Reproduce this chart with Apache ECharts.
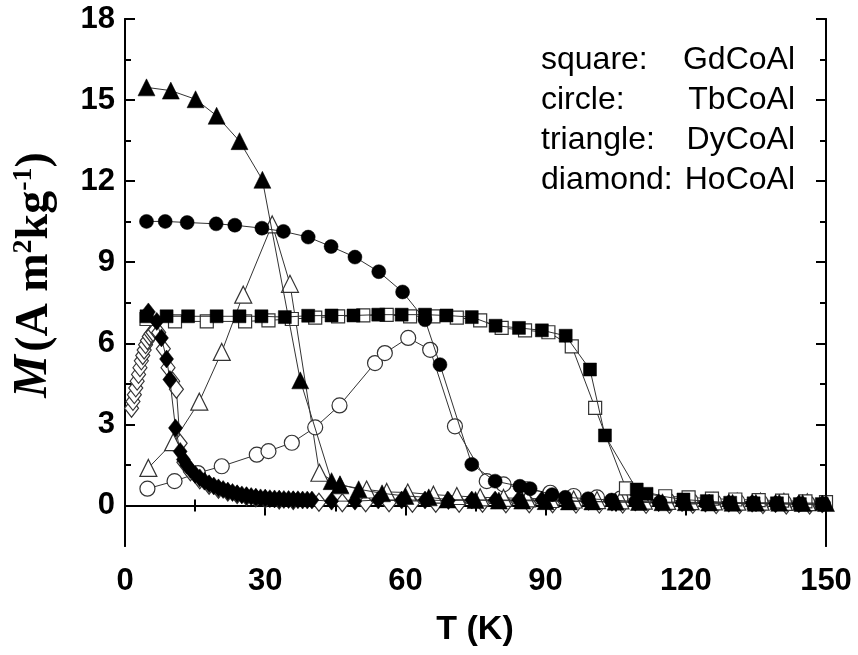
<!DOCTYPE html>
<html>
<head>
<meta charset="utf-8">
<script src="https://cdn.jsdelivr.net/npm/echarts@6/dist/echarts.min.js"></script>
<style>
  html, body { margin: 0; padding: 0; background: #fff; }
  #chart { width: 858px; height: 655px; }
</style>
</head>
<body>
<div id="chart"></div>
<script>
// T (K) , M (A m2 kg-1)
var gdFC = [[4.6,7.0],[8.9,7.0],[13.5,7.0],[19.6,7.0],[24.5,7.0],[29.2,7.0],[34.2,6.97],[39.2,7.02],[44.2,7.03],[48.9,7.03],[54.2,7.06],[59.2,7.06],[64.2,7.06],[68.8,7.03],[74.2,6.97],[79.3,6.65],[84.3,6.57],[89.2,6.48],[94.3,6.28],[99.5,5.03],[102.7,2.59],[109.5,0.59],[111.6,0.43],[119.5,0.22],[124.5,0.16],[129.5,0.1],[134.5,0.08],[139.5,0.08],[144.4,0.05],[149.1,0.05]];
var gdZFC = [[4.6,6.9],[10.7,6.81],[17.5,6.81],[25.7,6.81],[30.7,6.85],[35.7,6.9],[40.7,6.95],[45.6,7.0],[51,7.03],[56,7.05],[61,7.0],[66,7.0],[71,6.95],[76,6.85],[80.6,6.57],[85.6,6.48],[90.6,6.41],[95.6,5.89],[100.6,3.61],[107.2,0.63],[115.6,0.34],[120.6,0.3],[125.6,0.25],[130.6,0.22],[135.6,0.2],[140.6,0.18],[145.6,0.15],[150,0.12]];
var tbFC = [[4.6,10.51],[8.6,10.51],[13.3,10.47],[19.5,10.42],[23.5,10.37],[29.3,10.26],[33.9,10.14],[39.2,9.93],[44.1,9.58],[49.2,9.19],[54.3,8.65],[59.4,7.9],[64.2,6.87],[67.4,5.21],[74.2,1.52],[79.2,0.9],[84.5,0.71],[86.7,0.62],[91.4,0.4],[94.2,0.3],[99.1,0.25],[104.1,0.2],[109.3,0.15],[114.5,0.12],[119.5,0.1],[124.5,0.1],[129.5,0.08],[134.5,0.08],[139.5,0.06],[144.5,0.05],[149.5,0.05]];
var tbZFC = [[4.8,0.62],[10.6,0.9],[15.6,1.2],[20.7,1.45],[28.2,1.88],[30.7,2.01],[35.7,2.32],[40.7,2.89],[45.9,3.7],[53.5,5.27],[55.6,5.64],[60.6,6.2],[65.3,5.76],[70.6,2.93],[77.4,0.9],[81,0.78],[86,0.6],[91,0.47],[96,0.35],[101,0.3],[106,0.25],[111,0.22],[116,0.2],[121,0.18],[126,0.15],[131,0.15],[136,0.12],[141,0.12],[146,0.1]];
var dyFC = [[4.6,15.47],[9.8,15.35],[15.1,15.03],[19.6,14.42],[24.5,13.48],[29.4,12.05],[37.5,4.63],[44.2,0.9],[46,0.78],[50,0.6],[55,0.45],[60,0.35],[65,0.3],[69,0.22],[75,0.2],[80,0.18],[85,0.18],[90,0.16],[95,0.15],[100,0.15],[105,0.14],[110,0.13],[115,0.12],[120,0.12],[125,0.11],[130,0.1],[135,0.1],[140,0.1],[145,0.09],[150,0.09]];
var dyZFC = [[5,1.39],[10.3,2.34],[15.9,3.84],[20.7,5.68],[25.3,7.8],[31.5,10.4],[35.3,8.2],[41.6,1.21],[46,0.75],[51.7,0.59],[56,0.5],[60.5,0.48],[66,0.4],[71,0.35],[76,0.3],[81,0.28],[86,0.26],[91,0.24],[96,0.22],[101,0.2],[106,0.19],[111,0.18],[116,0.17],[121,0.16],[126,0.15],[131,0.14],[136,0.14],[141,0.13],[146,0.12]];
var hoFC = [[5,7.16],[6.8,6.81],[7.8,6.2],[8.9,5.42],[9.6,4.66],[10.8,2.87],[11.8,2.0],[12.5,1.7],[13.2,1.5],[14,1.33],[15,1.15],[16,1.02],[17,0.9],[18,0.8],[19,0.72],[20,0.65],[21,0.59],[22,0.53],[23,0.48],[24,0.43],[25,0.39],[26,0.36],[27,0.33],[28,0.3],[29,0.28],[30,0.27],[31,0.25],[32,0.24],[33,0.23],[34,0.22],[35,0.22],[36,0.21],[37,0.21],[38,0.2],[39,0.2],[40,0.2],[44.2,0.16],[49.2,0.16],[54.2,0.2],[59.2,0.2],[64.2,0.2],[69.2,0.18],[74.2,0.2],[79.2,0.2],[84.2,0.2],[89.2,0.2],[94.2,0.18],[99.2,0.15],[104.2,0.12],[109.2,0.12],[114.2,0.1],[119.2,0.1],[124.2,0.08],[129.2,0.08],[134.2,0.08],[139.2,0.06],[144.2,0.06],[149.2,0.05]];
var hoZFC = [[1.4,3.6],[1.7,3.85],[2.0,4.1],[2.3,4.35],[2.6,4.6],[2.9,4.85],[3.2,5.1],[3.5,5.35],[3.8,5.55],[4.1,5.75],[4.4,5.95],[4.8,6.1],[5.2,6.25],[5.6,6.35],[6.0,6.4],[6.5,6.5],[7.2,6.4],[8.2,5.8],[9.2,5.1],[10.2,4.6],[11,4.3],[11.8,2.3],[12.6,1.6],[14,1.25],[16,0.95],[18,0.75],[20,0.6],[22,0.5],[24,0.4],[26,0.33],[28,0.28],[30,0.24],[33,0.2],[36,0.18],[41.5,0.12],[46.5,0.1],[51.5,0.1],[56.5,0.1],[61.5,0.08],[66.5,0.08],[71.5,0.08],[76.5,0.08],[81.5,0.06],[86.5,0.06],[91.5,0.06],[96.5,0.05],[101.5,0.05],[106.5,0.05],[111.5,0.04],[116.5,0.04],[121.5,0.04],[126.5,0.03],[131.5,0.03],[136.5,0.03],[141.5,0.02],[146.5,0.02]];

var yMajor = [0, 3, 6, 9, 12, 15, 18];
var yMinor = [1.5, 4.5, 7.5, 10.5, 13.5, 16.5];

var legendRows = [['square:', 'GdCoAl'], ['circle:', 'TbCoAl'], ['triangle:', 'DyCoAl'], ['diamond:', 'HoCoAl']];

var dom = document.getElementById('chart');
var myChart = echarts.init(dom, null, { renderer: 'canvas' });

function mkSeries(data, symbol, size, filled) {
  return {
    type: 'line',
    data: data,
    symbol: symbol,
    symbolSize: size,
    showSymbol: true,
    animation: false,
    lineStyle: { color: '#333', width: 1 },
    itemStyle: filled
      ? { color: '#000', borderColor: '#000', borderWidth: 0.5 }
      : { color: '#fff', borderColor: '#333', borderWidth: 1.2 },
    emphasis: { disabled: true },
    z: filled ? 3 : 2
  };
}

function yAx(pos, vals, len, labels) {
  return {
    type: 'value', position: pos, min: -1.5, max: 18,
    axisLine: { show: true, lineStyle: { color: '#000', width: 2 } },
    axisTick: { show: true, inside: true, length: len, customValues: vals, lineStyle: { color: '#000', width: 2 } },
    axisLabel: labels
      ? { show: true, customValues: vals, margin: 10, color: '#000', fontSize: 31, fontWeight: 'bold', fontFamily: 'Liberation Sans, Arial' }
      : { show: false },
    splitLine: { show: false }
  };
}

function xAx(pos, labels) {
  return {
    type: 'value', position: pos, min: 0, max: 150, interval: 30,
    axisLine: { show: true, lineStyle: { color: '#000', width: 2 } },
    axisTick: { show: true, inside: true, length: 10, lineStyle: { color: '#000', width: 2 } },
    minorTick: { show: true, splitNumber: 2, length: 6, lineStyle: { color: '#000', width: 2 } },
    axisLabel: labels
      ? { show: true, margin: 20, color: '#000', fontSize: 31, fontWeight: 'bold', fontFamily: 'Liberation Sans, Arial' }
      : { show: false },
    splitLine: { show: false },
    minorSplitLine: { show: false }
  };
}

var graphics = [];
legendRows.forEach(function (r, i) {
  graphics.push({ type: 'text', x: 541, y: 60 + i * 40, style: { text: r[0], fill: '#000', font: '32px "Liberation Sans", Arial', textAlign: 'left', textVerticalAlign: 'middle' } });
  graphics.push({ type: 'text', x: 795, y: 60 + i * 40, style: { text: r[1], fill: '#000', font: '32px "Liberation Sans", Arial', textAlign: 'right', textVerticalAlign: 'middle' } });
});
graphics.push({
  type: 'text', x: 34, y: 275, rotation: Math.PI / 2,
  style: {
    text: '{i|M} {b|(A m}{s|2}{b|kg}{s|-1}{b|)}',
    textAlign: 'center', textVerticalAlign: 'middle', fill: '#000',
    rich: {
      i: { fontFamily: 'Liberation Serif, Times New Roman', fontSize: 48, fontWeight: 'bold', fontStyle: 'italic', lineHeight: 48, verticalAlign: 'bottom' },
      b: { fontFamily: 'Liberation Serif, Times New Roman', fontSize: 46, fontWeight: 'bold', lineHeight: 48, verticalAlign: 'bottom' },
      s: { fontFamily: 'Liberation Serif, Times New Roman', fontSize: 28, fontWeight: 'bold', lineHeight: 48, verticalAlign: 'top' }
    }
  }
});
graphics.push({
  type: 'text', x: 475, y: 630,
  style: { text: 'T (K)', fill: '#000', font: 'bold 34px "Liberation Sans", Arial', textAlign: 'center', textVerticalAlign: 'middle' }
});

var option = {
  animation: false,
  backgroundColor: '#fff',
  grid: { left: 125, right: 32, top: 19, bottom: 109, containLabel: false },
  xAxis: [xAx('bottom', true), xAx('top', false)],
  yAxis: [yAx('left', yMajor, 10, true), yAx('left', yMinor, 6, false), yAx('right', yMajor, 10, false), yAx('right', yMinor, 6, false)],
  graphic: graphics,
  series: [
    mkSeries(hoZFC, 'diamond', [14, 18], false),
    mkSeries(tbZFC, 'circle', 15, false),
    mkSeries(dyZFC, 'triangle', 17, false),
    mkSeries(gdZFC, 'rect', 13, false),
    mkSeries(hoFC, 'diamond', [14, 18], true),
    mkSeries(tbFC, 'circle', 14, true),
    mkSeries(dyFC, 'triangle', 17, true),
    mkSeries(gdFC, 'rect', 13, true)
  ]
};

myChart.setOption(option);
window.addEventListener('resize', myChart.resize);
</script>
</body>
</html>
